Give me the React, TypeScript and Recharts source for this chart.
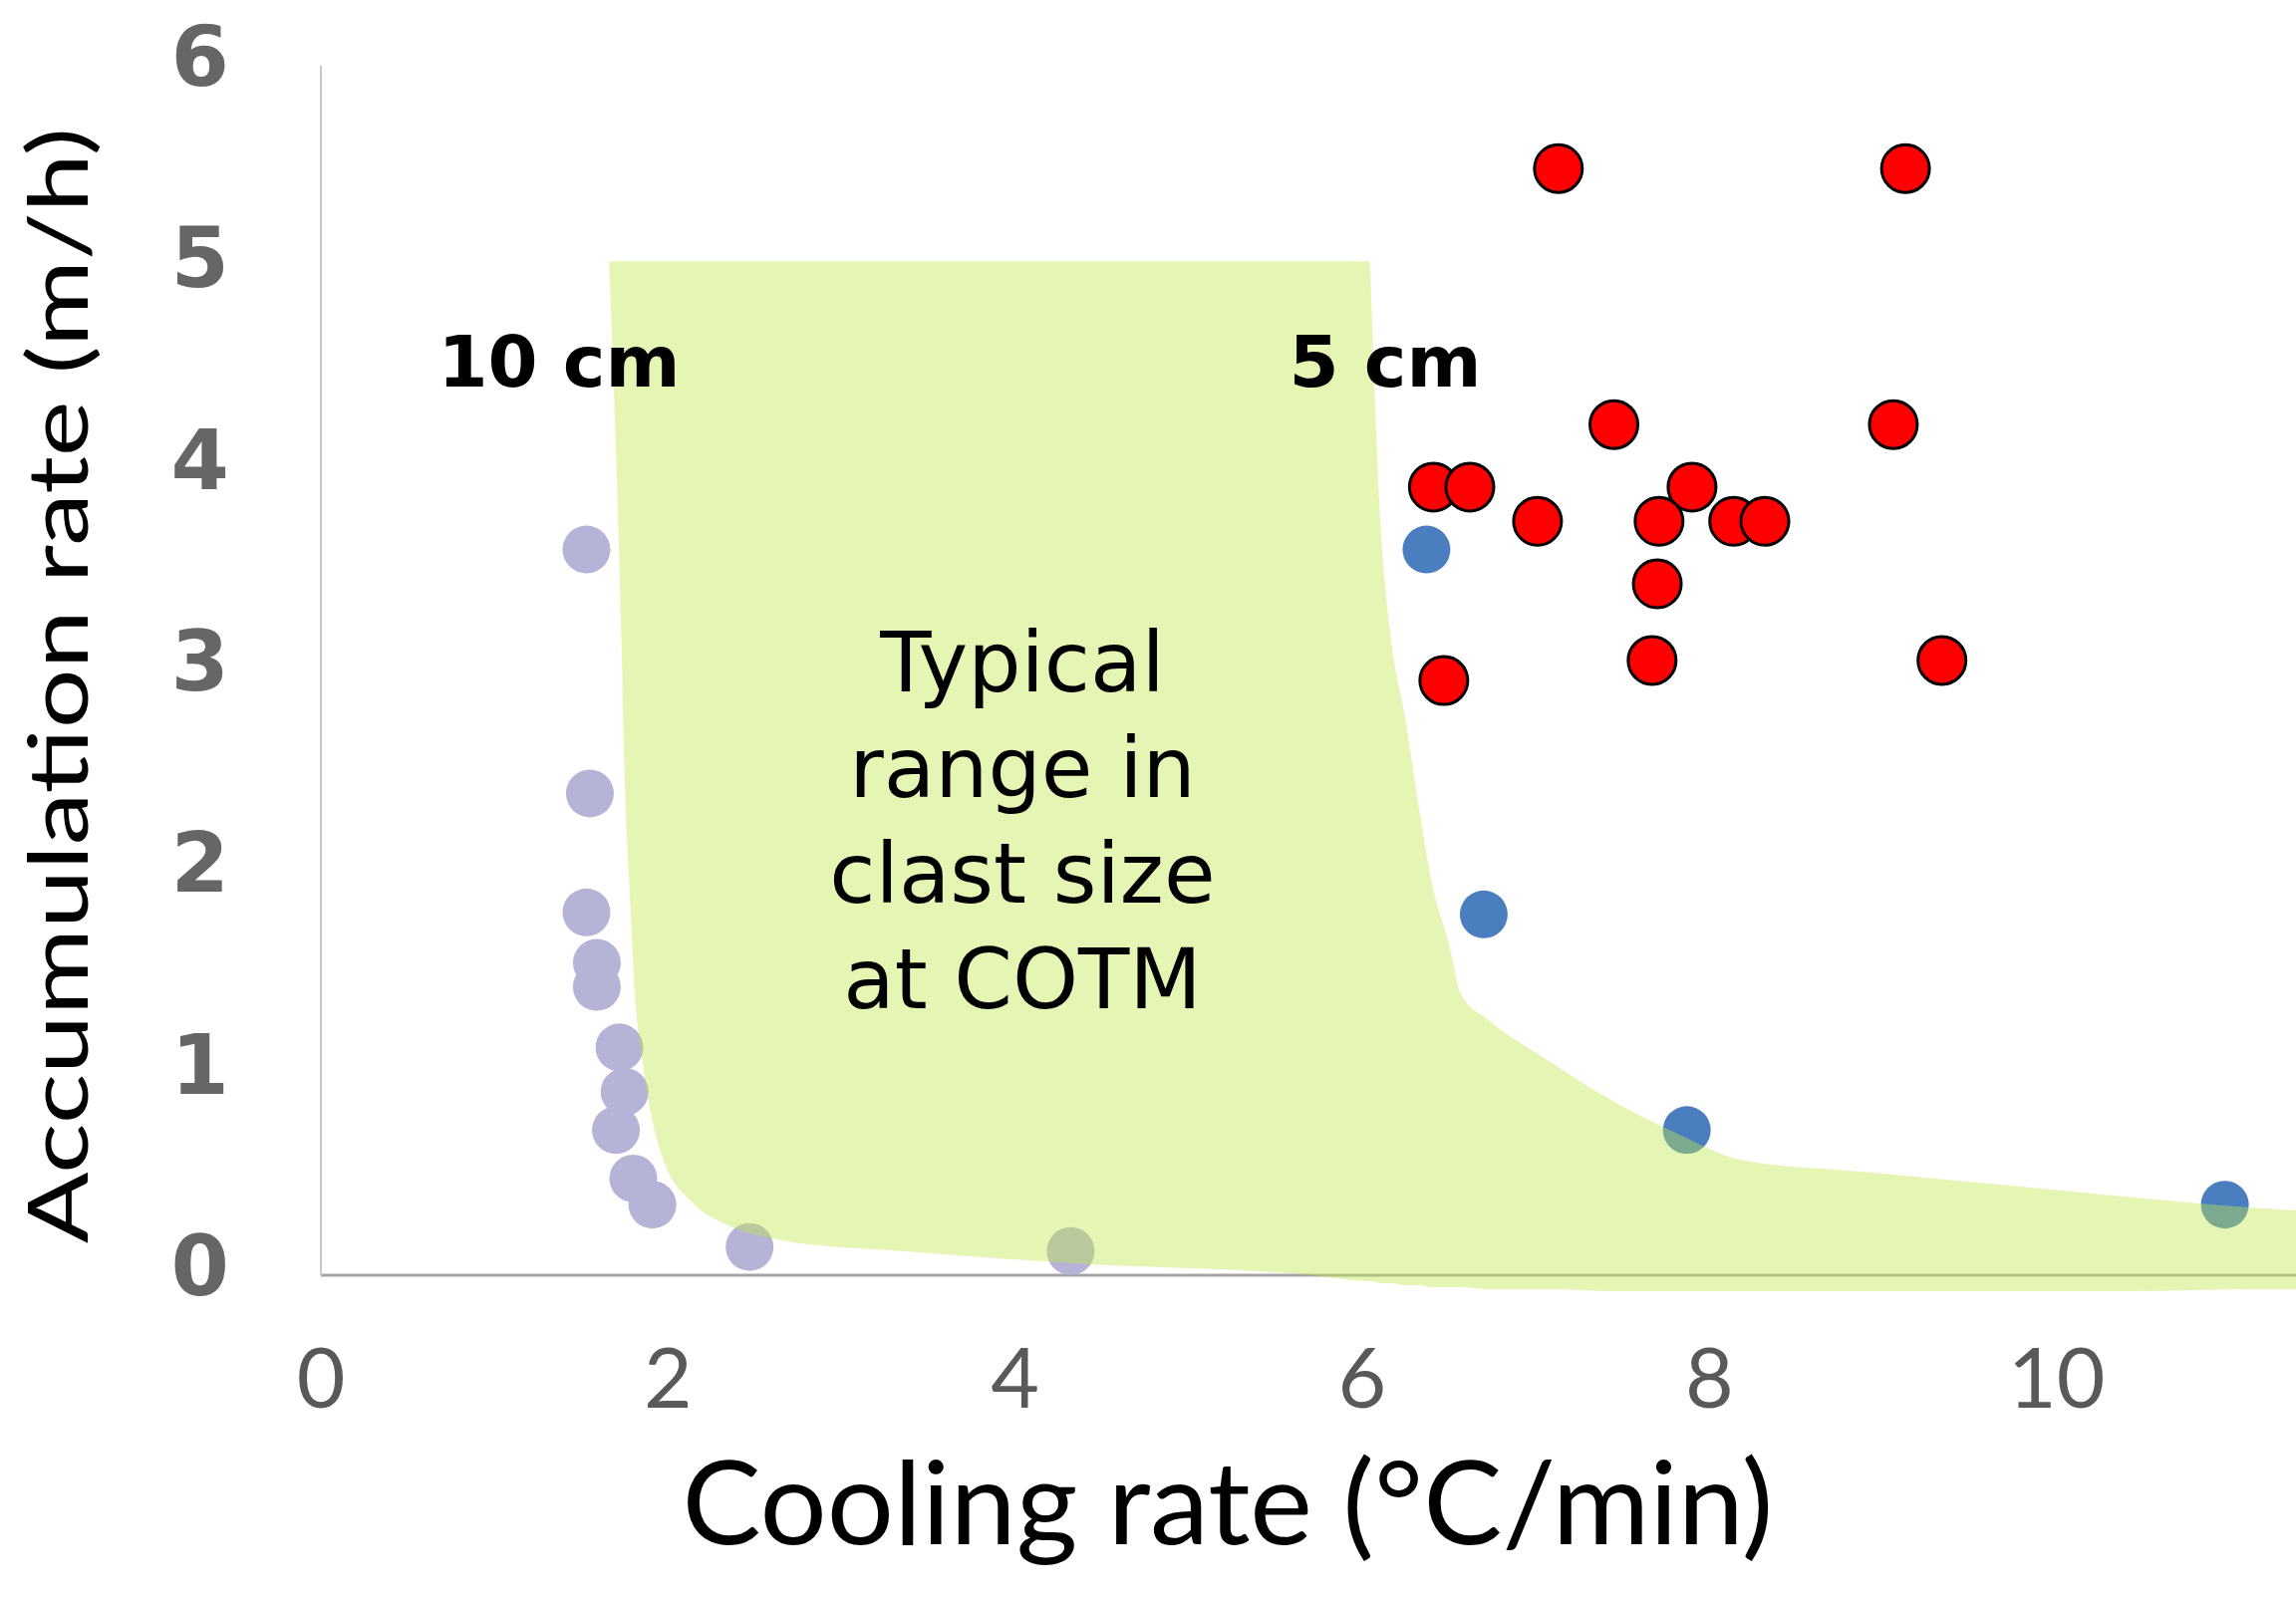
import React from 'react';
import { ComposedChart, Area, Scatter, XAxis, YAxis } from 'recharts';

// 10 cm clasts (lavender)
const LAV_X = [1.53, 1.55, 1.53, 1.59, 1.59, 1.72, 1.75, 1.70, 1.80, 1.91, 2.47, 4.32];
const LAV_Y = [3.60, 2.39, 1.80, 1.55, 1.43, 1.13, 0.91, 0.72, 0.48, 0.35, 0.14, 0.12];

// 5 cm clasts (blue)
const BLUE_X = [6.37, 6.70, 7.87, 10.97];
const BLUE_Y = [3.60, 1.79, 0.72, 0.35];

// observed (red)
const RED_X = [7.13, 9.13, 7.45, 9.06, 6.41, 6.62, 7.90, 7.01, 7.71, 8.14, 8.32, 7.70, 7.67, 9.34, 6.47];
const RED_Y = [5.49, 5.49, 4.22, 4.22, 3.91, 3.91, 3.91, 3.74, 3.74, 3.74, 3.74, 3.43, 3.05, 3.05, 2.95];

// typical clast size zone (low / high bounds)
const ZONE_X = [1.66, 1.68, 1.70, 1.73, 1.75, 1.78, 1.81, 1.85, 1.89, 1.97, 2.14, 2.34, 2.67, 3.33, 4.3, 5.7, 6.04,
  6.07, 6.10, 6.16, 6.25, 6.33, 6.40, 6.50, 6.57, 6.72, 7.08, 7.45, 7.82, 8.19, 8.92, 9.66, 10.39, 11.2, 11.38];
const ZONE_LOW = [5.03, 4.6, 4.10, 3.2, 2.48, 1.9, 1.39, 1.08, 0.85, 0.58, 0.36, 0.25, 0.17, 0.12, 0.06, 0.0, -0.03,
  -0.03, -0.04, -0.04, -0.05, -0.05, -0.06, -0.06, -0.06, -0.07, -0.07, -0.08, -0.08, -0.08, -0.08, -0.08, -0.08, -0.07, -0.07];
const ZONE_HIGH = [5.03, 5.03, 5.03, 5.03, 5.03, 5.03, 5.03, 5.03, 5.03, 5.03, 5.03, 5.03, 5.03, 5.03, 5.03, 5.03, 5.03,
  4.4, 3.8, 3.2, 2.75, 2.3, 1.95, 1.64, 1.39, 1.27, 1.06, 0.86, 0.70, 0.57, 0.51, 0.45, 0.39, 0.33, 0.32];

const X_TICKS = [0, 2, 4, 6, 8, 10];
const Y_TICKS = [0, 1, 2, 3, 4, 5, 6];
const ZONE_TEXT = ['Typical', 'range in', 'clast size', 'at COTM'];

const W = 2304;
const H = 1604;
const X_MAX = 11.38;
const Y_MIN_ZONE = -0.08;

const zip = (xs: number[], ys: number[]) => xs.map((x, i) => ({ x, y: ys[i] }));

function XTick({ x, payload }: any) {
  return (
    <text x={x} y={1413} textAnchor="middle" fontFamily="Lato" fontSize={84} fill="#595959">
      {payload.value}
    </text>
  );
}

function YTick({ y, payload }: any) {
  return (
    <text x={230} y={y + 20} textAnchor="end" fontFamily="DejaVu Sans" fontWeight="bold" fontSize={84} fill="#666666">
      {payload.value}
    </text>
  );
}

const dot = (fill: string, stroke?: string) => (props: any) => (
  <circle cx={props.cx} cy={props.cy} r={24} fill={fill} stroke={stroke ?? 'none'} strokeWidth={stroke ? 3 : 0} />
);

export default function App() {
  const lav = zip(LAV_X, LAV_Y);
  const blue = zip(BLUE_X, BLUE_Y);
  const red = zip(RED_X, RED_Y);
  const zone = ZONE_X.map((x, i) => ({ x, range: [ZONE_LOW[i], ZONE_HIGH[i]] }));

  return (
    <div style={{ position: 'relative', width: W, height: H, background: '#fff' }}>
      <style>{'body{margin:0}'}</style>
      <ComposedChart width={W} height={H} margin={{ top: 66, right: 0, left: 122, bottom: 174 }}>
        <XAxis
          type="number"
          dataKey="x"
          domain={[0, X_MAX]}
          ticks={X_TICKS}
          allowDataOverflow
          height={150}
          tickLine={false}
          axisLine={{ stroke: '#a6a6a6', strokeWidth: 3 }}
          tick={<XTick />}
        />
        <YAxis
          type="number"
          dataKey="y"
          domain={[0, 6]}
          ticks={Y_TICKS}
          width={200}
          tickLine={false}
          axisLine={{ stroke: '#c8c8c8', strokeWidth: 2 }}
          tick={<YTick />}
        />
        <Scatter data={lav} dataKey="y" shape={dot('#b5b3d6')} isAnimationActive={false} />
        <Scatter data={blue} dataKey="y" shape={dot('#4a7ebf')} isAnimationActive={false} />
        <Scatter data={red} dataKey="y" shape={dot('#ff0000', '#000')} isAnimationActive={false} />
      </ComposedChart>

      {/* translucent zone sits above the points, same scale, domain reaching slightly below 0 */}
      <div style={{ position: 'absolute', left: 0, top: 0 }}>
        <ComposedChart width={W} height={H} margin={{ top: 66, right: 0, left: 322, bottom: 308 }}>
          <XAxis type="number" dataKey="x" domain={[0, X_MAX]} allowDataOverflow hide />
          <YAxis type="number" domain={[Y_MIN_ZONE, 6]} hide />
          <Area
            data={zone}
            dataKey="range"
            type="monotone"
            stroke="none"
            fill="#c2e84a"
            fillOpacity={0.42}
            isAnimationActive={false}
            dot={false}
            activeDot={false}
          />
        </ComposedChart>
      </div>

      <svg width={W} height={H} style={{ position: 'absolute', left: 0, top: 0, pointerEvents: 'none' }}>
        <text x={561} y={388} textAnchor="middle" fontFamily="DejaVu Sans" fontWeight="bold" fontSize={72} fill="#000">10 cm</text>
        <text x={1390} y={388} textAnchor="middle" fontFamily="DejaVu Sans" fontWeight="bold" fontSize={72} fill="#000">5 cm</text>
        {ZONE_TEXT.map((t, i) => (
          <text key={t} x={1026} y={694 + i * 106} textAnchor="middle" fontFamily="DejaVu Sans" fontSize={84} fill="#000">
            {t}
          </text>
        ))}
        <text
          x={1232}
          y={1550}
          textAnchor="middle"
          fontFamily="Lato"
          fontSize={116}
          fill="#000"
          textLength={1095}
          lengthAdjust="spacingAndGlyphs"
        >
          Cooling rate (°C/min)
        </text>
        <text
          x={88}
          y={688}
          transform="rotate(-90 88 688)"
          textAnchor="middle"
          fontFamily="Lato"
          fontSize={84}
          fill="#000"
          textLength={1120}
          lengthAdjust="spacingAndGlyphs"
        >
          Accumulation rate (m/h)
        </text>
      </svg>
    </div>
  );
}
